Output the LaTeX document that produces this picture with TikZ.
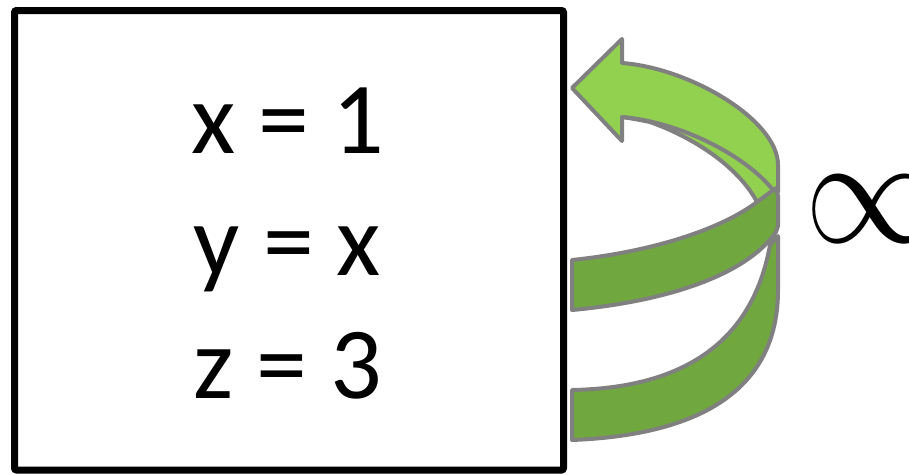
\documentclass[tikz,border=0pt]{standalone}
\usepackage{fontspec}
\newfontfamily\carlito{Carlito}
\definecolor{lightgreen}{HTML}{92D050}
\definecolor{darkgreen}{HTML}{70A83F}
\definecolor{edgegray}{HTML}{808080}
\tikzset{
  band/.style={draw=edgegray, line width=4pt, line join=round},
  eqtext/.style={anchor=base, inner sep=0pt, font=\carlito\fontsize{102}{122}\selectfont},
  framebox/.style={draw=black, line width=7pt, rounded corners=2pt}
}
\begin{document}
\begin{tikzpicture}[x=1pt,y=-1pt]
\useasboundingbox (0,0) rectangle (909,474);
\clip (0,0) rectangle (909,474);
% frame
\draw[framebox] (14.5,10.5) rectangle (563.5,470);
\node[eqtext] (l1) at (287.5,153) {x = 1};
\node[eqtext] (l2) at (287.5,275) {y = x};
\node[eqtext] (l3) at (287.5,398) {z = 3};
% bottom band
\filldraw[band, fill=darkgreen]
  (572,390) .. controls (680,388) and (752,345) .. (770,245)
  -- (778,236) -- (778,290)
  .. controls (778,390) and (700,435) .. (572,440) -- cycle;
% top light band with arrow head
\filldraw[band, fill=lightgreen]
  (572,88) -- (622,39) -- (622,63)
  .. controls (690,68) and (778,120) .. (778,165)
  -- (778,192) -- (757,202)
  .. controls (740,170) and (700,140) .. (650,122)
  .. controls (635,119) .. (622,117)
  -- (622,141) -- cycle;
\draw[band] (622,117) .. controls (680,122) and (745,155) .. (773,190);
% middle band
\filldraw[band, fill=darkgreen]
  (572,260) .. controls (650,252) and (720,230) .. (757,202)
  -- (776,188) -- (778,196) -- (778,226) -- (776,232)
  .. controls (750,270) and (680,300) .. (572,310) -- cycle;
% infinity
\node[inner sep=0pt, scale=15.5, xscale=0.85] (inf) at (871,209) {$\infty$};
\end{tikzpicture}
\end{document}
